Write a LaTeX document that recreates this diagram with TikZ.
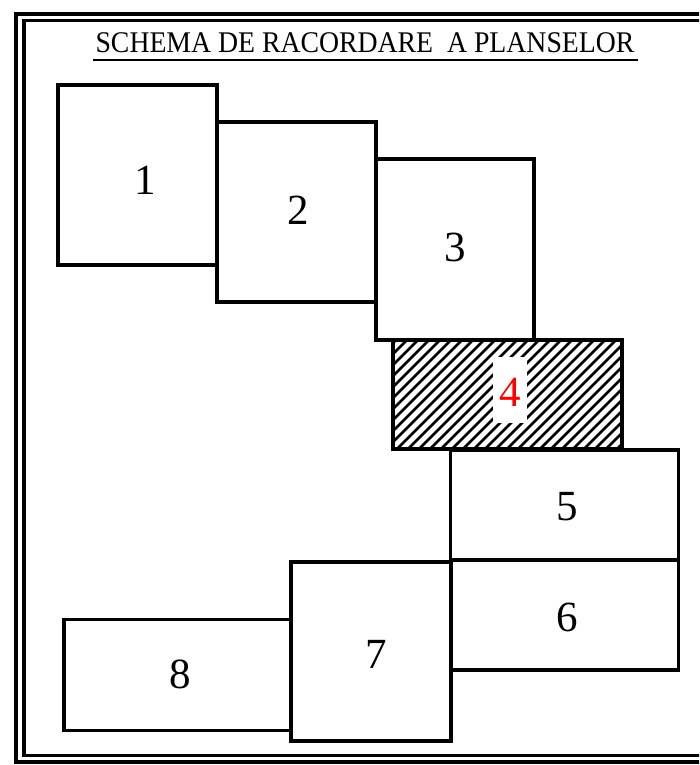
\documentclass[tikz,border=0pt]{standalone}
\usepackage{fontspec}
\setmainfont{Liberation Serif}
\begin{document}
\begin{tikzpicture}[x=1pt,y=-1pt,
  panel/.style={draw=black,line width=3.5pt,fill=none,inner sep=0pt,outer sep=0pt,minimum width=#1},
  num/.style={font=\fontsize{43}{43}\selectfont,inner sep=0pt},
  frame/.style={draw=black,line width=3.3pt},
  hatchline/.style={line width=2.6pt}]
\useasboundingbox (0,0) rectangle (699,765);
\clip (0,0) rectangle (699,765);
% double frame
\draw[frame] (16,14) rectangle (730,762);
\draw[frame] (24,20.5) rectangle (722,755.5);
% title
\node[font=\fontsize{30}{30}\selectfont,inner sep=0pt,anchor=base] (title) at (365,53) {\scalebox{0.925}[1]{SCHEMA DE RACORDARE\ \ A PLANSELOR}};
\draw[line width=2.8pt] (93,60) -- (638,60);
% hatching of plate 4
\begin{scope}
\clip (393,340) rectangle (622,449);
\foreach \c in {736,747,...,1080} {
  \draw[hatchline] (\c-460,460) -- (\c-330,330);
}
\end{scope}
\fill[white] (493,357) rectangle (527,423);
% plates
\node[panel=159pt,minimum height=180pt] (p1) at (137.5,175) {};
\node[panel=159pt,minimum height=180pt] (p2) at (296.5,212) {};
\node[panel=158pt,minimum height=181pt] (p3) at (455,249.5) {};
\node[panel=229pt,minimum height=109pt] (p4) at (507.5,394.5) {};
\node[panel=228pt,minimum height=110pt] (p5) at (564.5,505) {};
\node[panel=228pt,minimum height=110pt] (p6) at (564.5,615) {};
\node[panel=160pt,minimum height=179pt] (p7) at (371,651.5) {};
\node[panel=227pt,minimum height=111pt] (p8) at (177.5,675) {};
% labels
\node[num] (l1) at (145,180) {1};
\node[num] (l2) at (298,210) {2};
\node[num] (l3) at (455,247) {3};
\node[num,text=red] (l4) at (510,392) {4};
\node[num] (l5) at (567,507) {5};
\node[num] (l6) at (567,617) {6};
\node[num] (l7) at (376,654) {7};
\node[num] (l8) at (180,674) {8};
\end{tikzpicture}
\end{document}
